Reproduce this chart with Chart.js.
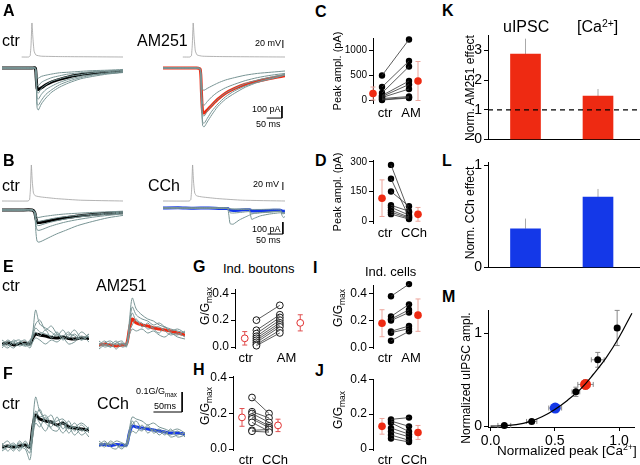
<!DOCTYPE html>
<html><head><meta charset="utf-8">
<script src="https://cdn.jsdelivr.net/npm/chart.js@4.4.0/dist/chart.umd.min.js"></script>
<style>
body{margin:0;background:#fff;}
#fig{position:relative;width:640px;height:465px;overflow:hidden;background:#fff;font-family:"Liberation Sans",Arial,sans-serif;color:#000;}
#fig canvas{position:absolute;}
.t{position:absolute;white-space:nowrap;line-height:1;}
.r{position:absolute;white-space:nowrap;line-height:1;transform:translate(-50%,-50%) rotate(-90deg);}
sub{font-size:70%;position:relative;top:0.35em;vertical-align:baseline;}
sup{font-size:65%;position:relative;top:-0.5em;vertical-align:baseline;}
</style></head><body><div id="fig"></div>
<script>
// ---- A: uIPSCs, ctr vs AM251 (pA, ms) ----
const apTA = [65, 88, 93, 96, 99, 102, 106, 112, 130, 200, 400];
const apVA = [-60, -60, -57, -30, 25, -10, -45, -55, -58, -59, -60];
const tA = [0, 60, 100, 110, 113, 116, 120, 130, 145, 165, 190, 220, 260, 300, 350, 400];
const aCtrMean = [0, 0, 0, 0, -80, -170, -180, -165, -140, -115, -95, -75, -55, -45, -35, -28];
const aCtrGray = [
  [0, 2, -2, 0, -120, -330, -350, -300, -250, -200, -160, -125, -90, -70, -50, -38],
  [2, -3, 0, -2, -110, -300, -310, -270, -220, -180, -140, -110, -80, -60, -45, -32],
  [0, 0, 3, 0, -90, -250, -260, -220, -180, -150, -120, -95, -70, -55, -40, -30],
  [-2, 2, 0, 0, -70, -200, -210, -170, -140, -110, -90, -70, -55, -40, -30, -22],
  [0, -2, 0, 2, -50, -140, -150, -120, -100, -80, -65, -50, -40, -30, -25, -18],
  [0, 0, -2, 0, -30, -80, -85, -70, -60, -50, -40, -35, -28, -22, -18, -12]
];
const tA2 = [0, 60, 110, 122, 126, 130, 135, 145, 160, 180, 205, 235, 270, 310, 355, 400];
const aAmMean = [0, 0, 0, -10, -200, -370, -375, -350, -310, -260, -210, -170, -135, -110, -85, -65];
const aAmGray = [
  [0, 2, -2, -10, -280, -480, -490, -450, -390, -320, -260, -210, -160, -120, -90, -60],
  [2, -2, 0, -10, -260, -450, -460, -420, -360, -300, -240, -190, -150, -115, -85, -58],
  [0, 0, 2, -8, -220, -390, -400, -360, -310, -260, -210, -170, -130, -100, -75, -52],
  [-2, 2, 0, -6, -170, -300, -310, -280, -240, -200, -165, -135, -105, -80, -60, -45],
  [0, -2, 0, -5, -110, -180, -185, -170, -150, -125, -100, -80, -60, -45, -35, -25]
];

// ---- B: uIPSCs, ctr vs CCh ----
const apTB = [0, 86, 91, 94, 97, 100, 104, 110, 130, 180, 260, 400];
const apVB = [-60, -60, -57, -30, 30, -10, -40, -47, -50, -54, -58, -60];
const tB = [0, 60, 100, 108, 112, 116, 122, 135, 155, 180, 210, 250, 300, 350, 400];
const bCtrMean = [0, 0, 0, -20, -70, -100, -105, -100, -90, -78, -65, -50, -38, -28, -22];
const bCtrGray = [
  [0, 2, -2, -30, -180, -260, -268, -255, -230, -200, -170, -130, -95, -65, -45],
  [2, -2, 0, -25, -120, -165, -170, -160, -140, -120, -100, -80, -60, -45, -32],
  [0, 0, 2, -20, -90, -125, -130, -120, -105, -90, -75, -60, -45, -35, -25],
  [-2, 2, 0, -15, -60, -90, -95, -88, -78, -65, -55, -45, -35, -25, -18],
  [0, -2, 0, -10, -40, -60, -62, -55, -48, -40, -33, -27, -20, -15, -10]
];
const tBC = [0, 50, 100, 150, 200, 212, 216, 220, 230, 250, 270, 283, 287, 291, 300, 320, 350, 375, 385, 390, 395, 400];
const bCChMean = [0, 2, -2, 0, -5, -5, -10, -18, -20, -18, -15, -15, -18, -25, -25, -22, -20, -18, -18, -25, -28, -25];
const bCChGray = [
  [0, 3, -3, 2, -2, -3, -60, -130, -135, -100, -75, -60, -55, -50, -45, -40, -35, -30, -30, -35, -38, -35],
  [3, 0, -2, 0, 2, -2, -5, -8, -10, -12, -12, -14, -60, -95, -85, -65, -50, -42, -40, -45, -48, -45],
  [-2, 2, 0, -3, 0, 0, -3, -5, -8, -8, -7, -8, -10, -12, -12, -12, -10, -10, -12, -60, -80, -70],
  [0, -3, 2, 0, -3, -2, -20, -40, -42, -38, -32, -30, -35, -45, -42, -38, -32, -28, -28, -38, -45, -42]
];

// ---- E / F: bouton Ca2+ transients (G/Gmax) ----
const tE = [0, 10, 20, 30, 40, 48, 53, 58, 65, 75, 85, 95, 105, 115, 125, 137, 150];
const eCtrMean = [0, 0.005, -0.005, 0.002, 0.005, 0, 0.03, 0.05, 0.045, 0.04, 0.032, 0.03, 0.035, 0.028, 0.025, 0.03, 0.028];
const eCtrGray = [
  [0.01, -0.01, 0.02, 0, -0.01, 0.01, 0.06, 0.17, 0.1, 0.08, 0.06, 0.04, 0.07, 0.03, 0.05, 0.02, 0.04],
  [-0.01, 0.02, 0, 0.01, 0.02, -0.01, 0.05, 0.1, 0.12, 0.07, 0.09, 0.05, 0.04, 0.06, 0.02, 0.06, 0.03],
  [0.02, 0, -0.02, 0.01, 0, 0.02, 0.03, 0.06, 0.04, 0.07, 0.03, 0.05, 0.02, 0.04, 0.07, 0.03, 0.05],
  [-0.02, 0.01, 0.01, -0.01, 0, -0.02, 0.01, 0.03, 0.02, 0, 0.02, 0.01, 0.03, 0, 0.01, 0.04, 0.01],
  [0, -0.02, 0.01, 0.02, -0.01, 0, 0.04, 0.08, 0.06, 0.05, 0.04, 0.06, 0.03, 0.05, 0.04, 0.02, 0.05]
];
const eAmMean = [0, 0.005, 0, -0.005, 0, 0.005, 0.08, 0.13, 0.11, 0.1, 0.095, 0.085, 0.08, 0.075, 0.07, 0.06, 0.05];
const eAmGray = [
  [0.01, -0.01, 0, 0.02, -0.01, 0, 0.12, 0.235, 0.18, 0.15, 0.13, 0.12, 0.1, 0.09, 0.08, 0.07, 0.06],
  [-0.01, 0.01, 0.02, 0, 0.01, -0.01, 0.1, 0.19, 0.15, 0.13, 0.12, 0.1, 0.11, 0.09, 0.07, 0.08, 0.06],
  [0, 0.02, -0.01, 0.01, 0, 0.01, 0.07, 0.1, 0.13, 0.09, 0.11, 0.08, 0.06, 0.09, 0.06, 0.05, 0.07],
  [0.02, 0, 0.01, -0.02, 0.01, 0, 0.05, 0.08, 0.07, 0.08, 0.06, 0.07, 0.05, 0.04, 0.06, 0.04, 0.03],
  [-0.02, 0, -0.01, 0.01, 0.02, 0, 0.09, 0.16, 0.12, 0.11, 0.08, 0.09, 0.09, 0.07, 0.05, 0.06, 0.04]
];
const fCtrMean = [0, 0.005, 0, 0.005, 0.01, 0, 0.1, 0.16, 0.14, 0.13, 0.125, 0.11, 0.12, 0.1, 0.095, 0.09, 0.085];
const fCtrGray = [
  [0.01, 0.03, -0.01, 0.02, 0, -0.03, 0.12, 0.25, 0.18, 0.14, 0.16, 0.1, 0.13, 0.09, 0.12, 0.08, 0.1],
  [-0.02, 0, 0.02, -0.01, 0.03, 0, 0.08, 0.14, 0.19, 0.12, 0.1, 0.15, 0.09, 0.13, 0.08, 0.11, 0.07],
  [0.02, -0.02, 0.01, 0, -0.01, -0.065, 0.05, 0.12, 0.1, 0.15, 0.09, 0.08, 0.12, 0.07, 0.1, 0.06, 0.09],
  [0, 0.01, -0.02, 0.03, 0, 0.01, 0.1, 0.15, 0.12, 0.08, 0.13, 0.11, 0.07, 0.1, 0.06, 0.09, 0.05],
  [-0.01, 0, 0.01, -0.02, 0.02, -0.01, 0.09, 0.18, 0.15, 0.16, 0.12, 0.13, 0.14, 0.11, 0.1, 0.12, 0.09]
];
const fCChMean = [0, 0.003, -0.003, 0.002, 0, 0, 0.06, 0.095, 0.09, 0.085, 0.08, 0.075, 0.07, 0.065, 0.06, 0.06, 0.055];
const fCChGray = [
  [0.01, -0.01, 0.02, 0, -0.01, 0.01, 0.08, 0.14, 0.13, 0.12, 0.1, 0.11, 0.09, 0.08, 0.07, 0.08, 0.06],
  [-0.01, 0.01, 0, 0.02, 0.01, -0.01, 0.05, 0.1, 0.12, 0.08, 0.09, 0.07, 0.08, 0.06, 0.05, 0.07, 0.04],
  [0, 0.02, -0.01, -0.02, 0.01, 0, 0.04, 0.07, 0.06, 0.1, 0.06, 0.08, 0.05, 0.07, 0.04, 0.05, 0.06],
  [0.02, 0, 0.01, 0, -0.02, 0.01, 0.06, 0.12, 0.09, 0.07, 0.1, 0.06, 0.07, 0.05, 0.08, 0.04, 0.05]
];

// ---- C/D/G/H/I/J: paired values ----
const cCtr = [500, 270, 150, 100, 80, 60, 40, 20, 10];
const cAm = [1220, 790, 680, 390, 320, 230, 80, 60, 50];
const cMean = [140, 390], cErr = [130, 390];
const cTicks = [0, 500, 1000];
const dCtr = [285, 215, 150, 80, 70, 55, 45, 35];
const dCCh = [45, 20, 75, 50, 30, 20, 15, 10];
const dMean = [116, 34], dErr = [93, 35];
const dTicks = [0, 150, 300];
const gCtr = [0.2, 0.125, 0.1, 0.08, 0.065, 0.05, 0.035, 0.02, 0.01];
const gAm = [0.31, 0.24, 0.22, 0.2, 0.18, 0.165, 0.15, 0.125, 0.105];
const gMean = [0.065, 0.18], gErr = [0.05, 0.06];
const hCtr = [0.29, 0.21, 0.2, 0.18, 0.17, 0.15, 0.105, 0.1];
const hCCh = [0.2, 0.175, 0.15, 0.13, 0.12, 0.1, 0.11, 0.095];
const hMean = [0.178, 0.133], hErr = [0.05, 0.035];
const iCtr = [0.38, 0.23, 0.21, 0.2, 0.12, 0.11, 0.05];
const iAm = [0.47, 0.32, 0.28, 0.26, 0.16, 0.14, 0.12];
const iMean = [0.18, 0.24], iErr = [0.1, 0.12];
const jCtr = [0.17, 0.16, 0.15, 0.12, 0.1, 0.08, 0.06];
const jCCh = [0.18, 0.13, 0.1, 0.085, 0.07, 0.05, 0.04];
const jMean = [0.13, 0.095], jErr = [0.045, 0.04];
const gTicks = [0, 0.2, 0.4];

// ---- K/L: normalized effects ----
const kVals = [2.87, 1.46], kErr = [0.52, 0.24];
const kTicks = [0, 1, 2, 3];
const lVals = [0.38, 0.69], lErr = [0.1, 0.08];
const lTicks = [0, 1];

// ---- M: uIPSC vs Ca2+ ----
const mX = [0.107, 0.32, 0.664, 0.834, 0.985];
const mY = [0.007, 0.05, 0.37, 0.716, 1.06];
const mXErr = [0.05, 0.04, 0.03, 0.05, 0.02];
const mYErr = [0.01, 0.02, 0.05, 0.08, 0.19];
const mCCh = {x: 0.503, y: 0.195, xe: 0.05, ye: 0.03};
const mAm = {x: 0.739, y: 0.45, xe: 0.06, ye: 0.05};
const fitX = [0, 0.1, 0.2, 0.3, 0.4, 0.5, 0.6, 0.7, 0.8, 0.9, 1.0, 1.1];
const fitY = [0, 0.003, 0.015, 0.045, 0.1, 0.18, 0.28, 0.4, 0.56, 0.74, 0.96, 1.22];
const mXTicks = [0, 0.5, 1.0], mYTicks = [0, 1];

const RED = '#ee2a12', BLUE = '#1438e8', TR_GRAY = '#789494', AP_GRAY = '#a0a0a0';

Chart.defaults.font.family = '"Liberation Sans", Arial, sans-serif';
Chart.defaults.color = '#000';
Chart.defaults.animation = false;
Chart.defaults.plugins.legend.display = false;
Chart.defaults.plugins.tooltip.enabled = false;

// error bars from dataset.yErr / dataset.xErr
Chart.register({
  id: 'errbars',
  beforeDatasetsDraw(chart) {
    const ctx = chart.ctx;
    chart.data.datasets.forEach((ds, di) => {
      if (!ds.yErr && !ds.xErr) return;
      const meta = chart.getDatasetMeta(di);
      const xs = chart.scales[meta.xAxisID], ys = chart.scales[meta.yAxisID];
      const cap = ds.errCap == null ? 3 : ds.errCap;
      ctx.save();
      ctx.strokeStyle = ds.errColor || '#888';
      ctx.lineWidth = 1;
      const seg = (x1, y1, x2, y2) => { ctx.beginPath(); ctx.moveTo(x1, y1); ctx.lineTo(x2, y2); ctx.stroke(); };
      ds.data.forEach((p, i) => {
        const px = xs.getPixelForValue(p.x), py = ys.getPixelForValue(p.y);
        if (ds.yErr) {
          const e = ds.yErr[i];
          const lo = ys.getPixelForValue(ds.upOnly ? p.y : p.y - e), hi = ys.getPixelForValue(p.y + e);
          seg(px, lo, px, hi);
          if (cap) { seg(px - cap, hi, px + cap, hi); if (!ds.upOnly) seg(px - cap, lo, px + cap, lo); }
        }
        if (ds.xErr) {
          const e = ds.xErr[i];
          const l = xs.getPixelForValue(p.x - e), r = xs.getPixelForValue(p.x + e);
          seg(l, py, r, py);
          if (cap) { seg(l, py - cap, l, py + cap); seg(r, py - cap, r, py + cap); }
        }
      });
      ctx.restore();
    });
  }
});
// dashed reference line
Chart.register({
  id: 'refLine',
  afterDatasetsDraw(chart, args, opts) {
    if (opts.y == null) return;
    const a = chart.chartArea, y = chart.scales.y.getPixelForValue(opts.y), ctx = chart.ctx;
    ctx.save();
    ctx.strokeStyle = '#000'; ctx.lineWidth = 1.2; ctx.setLineDash([5, 4]);
    ctx.beginPath(); ctx.moveTo(a.left, y); ctx.lineTo(a.right, y); ctx.stroke();
    ctx.restore();
  }
});

const fig = document.getElementById('fig');
function canvasAt(x, y, w, h) {
  const c = document.createElement('canvas');
  c.width = w; c.height = h;
  c.style.left = x + 'px'; c.style.top = y + 'px';
  c.style.width = w + 'px'; c.style.height = h + 'px';
  fig.appendChild(c);
  return c;
}
function label(html, x, base, size, bold) {
  const d = document.createElement('div');
  d.className = 't'; d.innerHTML = html;
  d.style.left = x + 'px'; d.style.top = (base - 0.85 * size) + 'px';
  d.style.fontSize = size + 'px';
  if (bold) d.style.fontWeight = 'bold';
  fig.appendChild(d);
}
function vlabel(html, cx, cy, size) {
  const d = document.createElement('div');
  d.className = 'r'; d.innerHTML = html;
  d.style.left = cx + 'px'; d.style.top = cy + 'px'; d.style.fontSize = size + 'px';
  fig.appendChild(d);
}
const fixedTicks = vals => (s => { s.ticks = vals.map(v => ({value: v})); });

function traceChart(box, o) {
  const c = canvasAt(box.x, box.y, box.w, box.h);
  const top = box.y, bot = box.y + box.h;
  const mk = (t, v) => t.map((tt, k) => ({x: tt, y: v[k]}));
  const ds = [];
  if (o.apT) ds.push({data: mk(o.apT, o.apV), borderColor: AP_GRAY, borderWidth: 0.8, yAxisID: 'v', tension: 0.15});
  o.gray.forEach(g => ds.push({data: mk(o.t, g), borderColor: TR_GRAY, borderWidth: 1, yAxisID: 'i'}));
  ds.push({data: mk(o.t, o.mean), borderColor: o.color, borderWidth: 3, yAxisID: 'i'});
  (o.bars || []).forEach(b => ds.push({data: b.pts.map(p => ({x: p[0], y: p[1]})), borderColor: '#000', borderWidth: 1, yAxisID: b.axis, tension: 0}));
  ds.forEach(d => { d.pointRadius = 0; d.clip = false; if (d.tension == null) d.tension = o.tension; });
  const scales = {
    x: {type: 'linear', display: false, min: 0, max: o.tmax},
    i: {type: 'linear', display: false, min: -(bot - o.iBase) * o.iPx, max: (o.iBase - top) * o.iPx}
  };
  if (o.apT) scales.v = {type: 'linear', display: false, min: -60 - (bot - o.vBase) * 2.5, max: -60 + (o.vBase - top) * 2.5};
  new Chart(c, {type: 'line', data: {datasets: ds}, options: {responsive: false, layout: {padding: 0}, scales}});
}

function pairPanel(box, area, o) {
  const c = canvasAt(box.x, box.y, box.w, box.h);
  const unit = o.pxDrug - o.pxCtr;
  const toX = px => 1 + (px - o.pxCtr) / unit;
  const ds = o.pre.map((v, i) => ({type: 'line', data: [{x: 1, y: v}, {x: 2, y: o.post[i]}], borderColor: '#333', borderWidth: 0.8, pointRadius: 0, clip: false}));
  const pts = o.pre.map(v => ({x: 1, y: v})).concat(o.post.map(v => ({x: 2, y: v})));
  ds.push({type: 'scatter', data: pts, pointRadius: o.hollow ? 3.4 : 3.2,
    pointBackgroundColor: o.hollow ? '#fff' : '#000', pointBorderColor: '#000', pointBorderWidth: o.hollow ? 0.9 : 0, clip: false});
  ds.push({type: 'scatter', data: o.mean.map((m, i) => ({x: toX(o.pxMean[i]), y: m})), yErr: o.err,
    errColor: o.hollow ? '#e05050' : '#eca59c', errCap: 2.5,
    pointRadius: o.hollow ? 3.4 : 3.8, pointBackgroundColor: o.hollow ? '#fff' : RED,
    pointBorderColor: o.hollow ? '#e03030' : RED, pointBorderWidth: o.hollow ? 1 : 0, clip: false});
  const lx = o.pxLabel.map(toX);
  new Chart(c, {type: 'scatter', data: {datasets: ds}, options: {
    responsive: false,
    layout: {padding: {top: area.t - box.y, right: box.x + box.w - area.r, left: 0, bottom: 0}},
    scales: {
      x: {type: 'linear', min: toX(area.l), max: toX(area.r),
        afterFit: s => { s.height = box.y + box.h - area.b; },
        afterBuildTicks: fixedTicks(lx),
        grid: {display: false, drawTicks: false}, border: {display: false},
        ticks: {autoSkip: false, maxRotation: 0, padding: 3, font: {size: 13}, callback: (v, i) => o.labels[i]}},
      y: {type: 'linear', min: o.ymin, max: o.ymax,
        afterFit: s => { s.width = area.l - box.x; },
        afterBuildTicks: fixedTicks(o.ticks),
        grid: {drawOnChartArea: false, tickLength: 4, color: '#000'}, border: {display: true, color: '#000'},
        ticks: {autoSkip: false, padding: 2, font: {size: o.tickSize},
          callback: v => (v === 0 && o.zeroLabel) ? o.zeroLabel : (o.dec ? v.toFixed(o.dec) : String(v))}}
    }
  }});
}

function barPanel(box, area, vals, errs, color, o) {
  const c = canvasAt(box.x, box.y, box.w, box.h);
  const unit = 72.5, c1 = 525.5;
  const toX = px => 1 + (px - c1) / unit;
  new Chart(c, {type: 'bar', data: {datasets: [{
    data: vals.map((v, i) => ({x: i + 1, y: v})), backgroundColor: color, barThickness: 30,
    yErr: errs, upOnly: true, errCap: 0, errColor: '#aaa'}]},
    options: {responsive: false,
      layout: {padding: {top: area.t - box.y, right: 0, left: 0, bottom: 0}},
      plugins: {refLine: {y: o.ref}},
      scales: {
        x: {type: 'linear', offset: false, min: toX(area.l), max: toX(area.r), afterFit: s => { s.height = box.y + box.h - area.b; },
          ticks: {display: false}, grid: {display: false, drawTicks: false, offset: false}, border: {display: true, color: '#000'}},
        y: {type: 'linear', min: 0, max: o.ymax, afterFit: s => { s.width = area.l - box.x; },
          afterBuildTicks: fixedTicks(o.ticks),
          grid: {drawOnChartArea: false, tickLength: 4, color: '#000'}, border: {display: true, color: '#000'},
          ticks: {autoSkip: false, padding: 2, font: {size: 14}}}
      }}});
}

// ---- traces ----
const baseA = {tension: 0.25, tmax: 400, iPx: 8.33};
traceChart({x: 2, y: 18, w: 121, h: 115}, Object.assign({}, baseA, {t: tA, gray: aCtrGray, mean: aCtrMean, color: '#000', apT: apTA, apV: apVA, iBase: 68, vBase: 57}));
traceChart({x: 163, y: 18, w: 122, h: 115}, Object.assign({}, baseA, {t: tA2, gray: aAmGray, mean: aAmMean, color: RED, apT: apTA, apV: apVA, iBase: 68, vBase: 57,
  bars: [{axis: 'i', pts: [[390, -317], [390, -417], [340, -417]]}, {axis: 'v', pts: [[393, -37.5], [393, -17.5]]}]}));
traceChart({x: 2, y: 158, w: 121, h: 92}, Object.assign({}, baseA, {t: tB, gray: bCtrGray, mean: bCtrMean, color: '#000', apT: apTB, apV: apVB, iBase: 210, vBase: 201}));
traceChart({x: 163, y: 158, w: 122, h: 92}, Object.assign({}, baseA, {tension: 0.15, t: tBC, gray: bCChGray, mean: bCChMean, color: BLUE, apT: apTB, apV: apVB, iBase: 208, vBase: 201,
  bars: [{axis: 'i', pts: [[393, -117], [393, -217], [343, -217]]}, {axis: 'v', pts: [[393, -32.5], [393, -12.5]]}]}));
const baseE = {tension: 0.3, tmax: 150, iPx: 0.005, t: tE};
traceChart({x: 2, y: 292, w: 87, h: 70}, Object.assign({}, baseE, {gray: eCtrGray, mean: eCtrMean, color: '#000', iBase: 344}));
traceChart({x: 99, y: 292, w: 86, h: 70}, Object.assign({}, baseE, {gray: eAmGray, mean: eAmMean, color: RED, iBase: 345}));
traceChart({x: 2, y: 388, w: 87, h: 77}, Object.assign({}, baseE, {gray: fCtrGray, mean: fCtrMean, color: '#000', iBase: 447}));
traceChart({x: 99, y: 385, w: 86, h: 80}, Object.assign({}, baseE, {gray: fCChGray, mean: fCChMean, color: BLUE, iBase: 445,
  bars: [{axis: 'i', pts: [[145, 0.265], [145, 0.165], [95, 0.165]]}]}));

// ---- paired plots ----
pairPanel({x: 340, y: 30, w: 93, h: 90}, {l: 373, t: 38, r: 428, b: 103},
  {pre: cCtr, post: cAm, mean: cMean, err: cErr, pxCtr: 382, pxDrug: 409, pxMean: [373, 418], pxLabel: [385, 411],
   labels: ['ctr', 'AM'], ymin: -50, ymax: 1250, ticks: cTicks, tickSize: 10});
pairPanel({x: 340, y: 152, w: 93, h: 88}, {l: 373, t: 160, r: 428, b: 223},
  {pre: dCtr, post: dCCh, mean: dMean, err: dErr, pxCtr: 391, pxDrug: 409, pxMean: [382, 418], pxLabel: [385, 414],
   labels: ['ctr', 'CCh'], ymin: -10, ymax: 310, ticks: dTicks, tickSize: 10});
pairPanel({x: 208, y: 280, w: 107, h: 85}, {l: 235, t: 288, r: 312, b: 348},
  {pre: gCtr, post: gAm, mean: gMean, err: gErr, pxCtr: 257, pxDrug: 281, pxMean: [245, 302], pxLabel: [246, 288],
   labels: ['ctr', 'AM'], ymin: -0.007, ymax: 0.43, ticks: gTicks, dec: 1, tickSize: 12, hollow: true});
pairPanel({x: 206, y: 367, w: 100, h: 98}, {l: 233, t: 375, r: 300, b: 450},
  {pre: hCtr, post: hCCh, mean: hMean, err: hErr, pxCtr: 252, pxDrug: 269, pxMean: [242, 278], pxLabel: [246, 275],
   labels: ['ctr', 'CCh'], ymin: -0.0056, ymax: 0.41, ticks: gTicks, dec: 1, tickSize: 12, hollow: true});
pairPanel({x: 346, y: 276, w: 87, h: 89}, {l: 373, t: 284, r: 428, b: 348},
  {pre: iCtr, post: iAm, mean: iMean, err: iErr, pxCtr: 391, pxDrug: 409, pxMean: [382, 418], pxLabel: [385, 411],
   labels: ['ctr', 'AM'], ymin: -0.0036, ymax: 0.462, ticks: gTicks, dec: 1, tickSize: 12});
pairPanel({x: 346, y: 370, w: 87, h: 95}, {l: 373, t: 378, r: 428, b: 450},
  {pre: jCtr, post: jCCh, mean: jMean, err: jErr, pxCtr: 391, pxDrug: 409, pxMean: [382, 418], pxLabel: [385, 414],
   labels: ['ctr', 'CCh'], ymin: -0.0056, ymax: 0.4, ticks: gTicks, dec: 1, tickSize: 12, zeroLabel: '0'});

// ---- K, L bars ----
barPanel({x: 470, y: 25, w: 170, h: 125}, {l: 488, t: 33, r: 640, b: 140.5}, kVals, kErr, RED, {ymax: 3.5, ref: 1, ticks: kTicks});
barPanel({x: 470, y: 152, w: 170, h: 126}, {l: 488, t: 160, r: 640, b: 269}, lVals, lErr, BLUE, {ymax: 1.03, ticks: lTicks});

// ---- M scatter ----
(function () {
  const box = {x: 470, y: 300, w: 170, h: 165}, area = {l: 488, t: 309, r: 640, b: 427};
  const c = canvasAt(box.x, box.y, box.w, box.h);
  new Chart(c, {type: 'scatter', data: {datasets: [
    {type: 'line', data: fitX.map((x, i) => ({x, y: fitY[i]})), borderColor: '#000', borderWidth: 1.2, pointRadius: 0, tension: 0.4, clip: false},
    {data: mX.map((x, i) => ({x, y: mY[i]})), xErr: mXErr, yErr: mYErr, errColor: '#888', errCap: 2.5,
     pointRadius: 3.5, pointBackgroundColor: '#000', pointBorderWidth: 0, clip: false},
    {data: [{x: mCCh.x, y: mCCh.y}], xErr: [mCCh.xe], yErr: [mCCh.ye], errColor: '#888', errCap: 2.5,
     pointRadius: 5.5, pointBackgroundColor: BLUE, pointBorderWidth: 0, clip: false},
    {data: [{x: mAm.x, y: mAm.y}], xErr: [mAm.xe], yErr: [mAm.ye], errColor: '#888', errCap: 2.5,
     pointRadius: 5.5, pointBackgroundColor: RED, pointBorderWidth: 0, clip: false}
  ]}, options: {responsive: false,
    layout: {padding: {top: area.t - box.y, right: 0, left: 0, bottom: 0}},
    scales: {
      x: {type: 'linear', min: -0.02, max: 1.12, afterFit: s => { s.height = box.y + box.h - area.b; },
        afterBuildTicks: fixedTicks(mXTicks),
        grid: {drawOnChartArea: false, tickLength: 4, color: '#000'}, border: {display: true, color: '#000'},
        ticks: {autoSkip: false, maxRotation: 0, padding: 2, font: {size: 14}, callback: v => v.toFixed(1)}},
      y: {type: 'linear', min: -0.01, max: 1.25, afterFit: s => { s.width = area.l - box.x; },
        afterBuildTicks: fixedTicks(mYTicks),
        grid: {drawOnChartArea: false, tickLength: 4, color: '#000'}, border: {display: true, color: '#000'},
        ticks: {autoSkip: false, padding: 2, font: {size: 14}}}
    }}});
})();

// ---- text ----
[['A', 3, 16.5], ['B', 3, 166.5], ['C', 315, 17.5], ['D', 315, 167], ['E', 3, 272.5], ['F', 3, 380],
 ['G', 193, 272.5], ['H', 193, 376], ['I', 313, 273.5], ['J', 315, 377], ['K', 442, 16.5], ['L', 442, 167], ['M', 442, 303]]
  .forEach(p => label(p[0], p[1], p[2], 16, true));
label('ctr', 2, 47, 16); label('AM251', 137, 47, 16);
label('ctr', 2, 192, 16); label('CCh', 148, 192, 16);
label('ctr', 2, 292, 16); label('AM251', 96, 292, 16);
label('ctr', 2, 410, 16); label('CCh', 97, 410, 16);
label('20 mV', 255, 47, 9); label('100 pA', 252, 113, 9); label('50 ms', 256, 128, 9);
label('20 mV', 253, 188, 9); label('100 pA', 252, 233, 9); label('50 ms', 256, 244, 9);
label('0.1G/G<sub>max</sub>', 136, 395, 9); label('50ms', 154, 410, 9);
label('Ind. boutons', 223, 273, 13); label('Ind. cells', 365, 276, 13);
label('uIPSC', 503, 33, 16); label('[Ca<sup>2+</sup>]', 577, 33, 16);
label('Normalized peak [Ca<sup>2+</sup>]', 497, 455, 13.5);
vlabel('Peak ampl. (pA)', 337, 71, 11); vlabel('Peak ampl. (pA)', 337, 192, 11);
vlabel('G/G<sub>max</sub>', 205, 306, 12); vlabel('G/G<sub>max</sub>', 205, 406, 12);
vlabel('G/G<sub>max</sub>', 338, 308, 12); vlabel('G/G<sub>max</sub>', 338, 410, 12);
vlabel('Norm. AM251 effect', 470, 88, 12); vlabel('Norm. CCh effect', 470, 213, 12);
vlabel('Normalized uIPSC ampl.', 466, 378, 12);
</script></body></html>
